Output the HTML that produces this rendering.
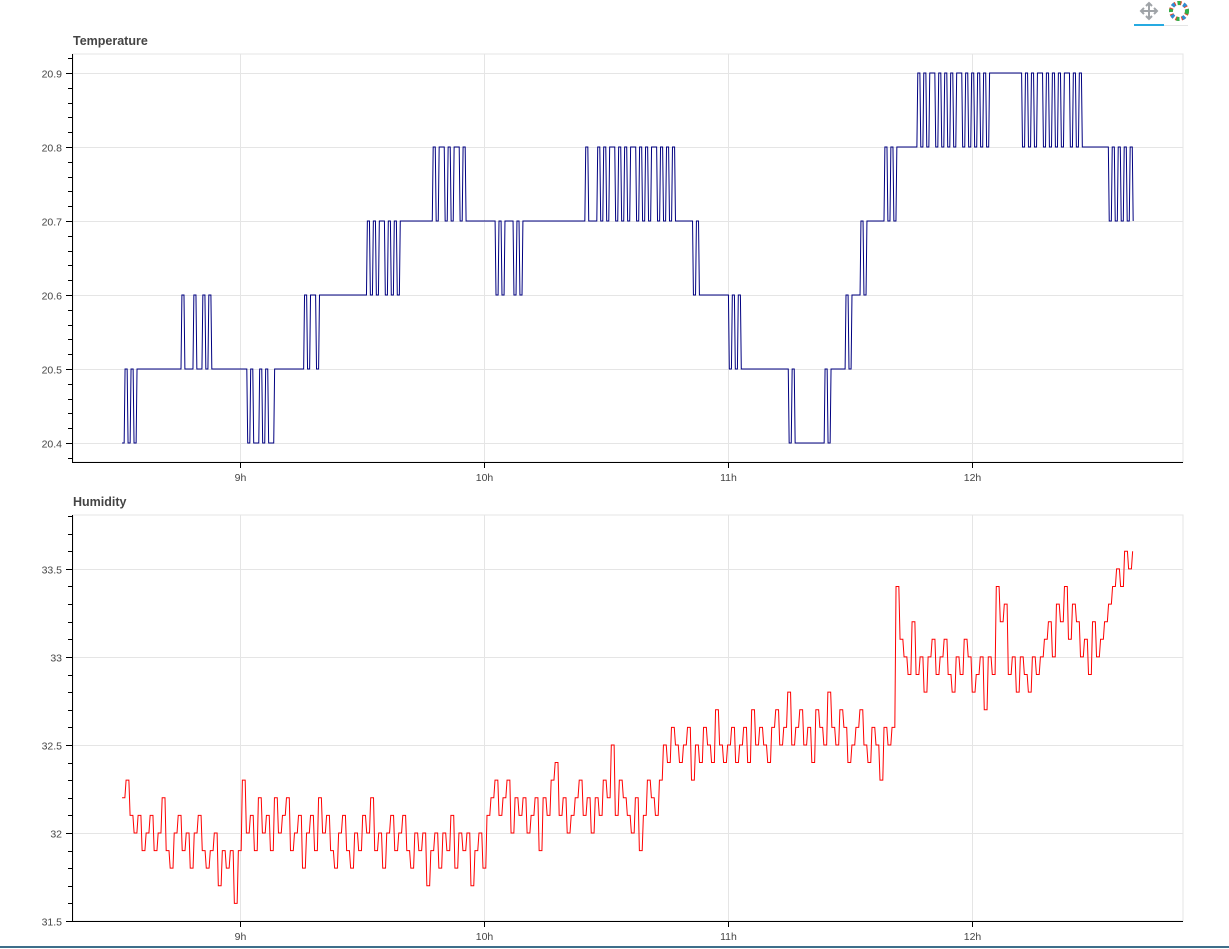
<!DOCTYPE html>
<html><head><meta charset="utf-8"><style>
html,body{margin:0;padding:0;background:#fff;}
svg{display:block;font-family:"Liberation Sans",sans-serif;}
</style></head><body>
<svg id="chart" width="1229" height="949">
<g id="toolbar">
 <g>
  <rect x="1134" y="0" width="30" height="26" fill="#fff"/>
  <path d="M1149 4 L1149 18 M1142 11 L1156 11 M1146 6 L1149 3 L1152 6 M1146 16 L1149 19 L1152 16 M1144 8 L1141 11 L1144 14 M1154 8 L1157 11 L1154 14" stroke="#a0a4a8" stroke-width="2" fill="none"/>
  <rect x="1134" y="24" width="30" height="2" fill="#26aae1"/>
 </g>
 <rect x="1164" y="25" width="24" height="1" fill="#e5e5e5"/>
 <g>
  <circle cx="1179" cy="11" r="8" fill="none" stroke="#e8442d" stroke-width="4" stroke-dasharray="4 2"/>
  <circle cx="1179" cy="11" r="8" fill="none" stroke="#2fb14a" stroke-width="4" stroke-dasharray="3 9"/>
  <circle cx="1179" cy="11" r="8" fill="none" stroke="#2b8fd6" stroke-width="4" stroke-dasharray="3 9" stroke-dashoffset="6"/>
  <circle cx="1179" cy="11" r="4" fill="#fff"/>
 </g>
</g>
</svg>
<script>
// ---- data ----
var tempStartMin = 511;      // 8:31
var tempStepMin = 0.7356;
var tempValues = [
20.4,20.5,20.4,20.5,20.4,20.5,
20.5,20.5,20.5,20.5,20.5,20.5,20.5,20.5,20.5,20.5,20.5,20.5,20.5,20.5,
20.6,20.5,20.5,20.5,20.6,20.5,20.5,20.6,20.5,20.6,
20.5,20.5,20.5,20.5,20.5,20.5,20.5,20.5,20.5,20.5,20.5,20.5,
20.4,20.5,20.4,20.4,20.5,20.4,20.5,20.4,20.4,20.5,
20.5,20.5,20.5,20.5,20.5,20.5,20.5,20.5,20.5,
20.6,20.5,20.6,20.6,20.5,20.6,
20.6,20.6,20.6,20.6,20.6,20.6,20.6,20.6,20.6,20.6,20.6,20.6,20.6,20.6,20.6,
20.7,20.6,20.7,20.6,20.7,20.7,20.6,20.7,20.6,20.7,20.6,20.7,
20.7,20.7,20.7,20.7,20.7,20.7,20.7,20.7,20.7,20.7,
20.8,20.7,20.8,20.8,20.7,20.8,20.7,20.8,20.8,20.7,20.8,20.7,
20.7,20.7,20.7,20.7,20.7,20.7,20.7,20.7,20.7,
20.6,20.7,20.6,20.7,20.7,20.7,20.6,20.7,20.6,
20.7,20.7,20.7,20.7,20.7,20.7,20.7,20.7,20.7,20.7,20.7,20.7,20.7,20.7,20.7,20.7,20.7,20.7,20.7,20.7,20.7,
20.8,20.7,20.7,20.7,
20.8,20.7,20.8,20.7,20.8,20.8,20.7,20.8,20.7,20.8,20.7,20.8,20.8,20.7,20.8,20.7,20.8,20.7,20.8,20.8,20.7,20.8,20.7,20.8,20.7,20.8,20.7,
20.7,20.7,20.7,20.7,20.7,
20.6,20.7,20.6,20.6,
20.6,20.6,20.6,20.6,20.6,20.6,20.6,20.6,
20.5,20.6,20.5,20.6,20.5,20.5,
20.5,20.5,20.5,20.5,20.5,20.5,20.5,20.5,20.5,20.5,20.5,20.5,20.5,20.5,
20.4,20.5,20.4,
20.4,20.4,20.4,20.4,20.4,20.4,20.4,20.4,20.4,
20.5,20.4,20.5,
20.5,20.5,20.5,20.5,
20.6,20.5,
20.6,20.6,20.6,
20.7,20.6,
20.7,20.7,20.7,20.7,20.7,20.7,
20.8,20.7,20.8,20.7,20.8,20.8,
20.8,20.8,20.8,20.8,20.8,
20.9,20.8,20.9,20.8,20.9,20.9,20.8,20.9,20.8,20.9,20.8,20.9,20.8,20.9,20.9,20.8,20.9,20.8,20.9,20.8,20.9,20.8,20.9,20.8,
20.9,20.9,20.9,20.9,20.9,20.9,20.9,20.9,20.9,20.9,20.9,
20.8,20.9,
20.8,20.9,20.8,20.9,20.9,20.8,20.9,20.8,20.9,20.8,20.9,20.8,20.9,20.9,20.8,20.9,20.8,20.9,20.8,20.8,
20.8,20.8,20.8,20.8,20.8,20.8,20.8,
20.7,20.8,20.7,20.8,20.7,20.8,20.7,20.8,20.7
];
var humStartMin = 511;
var humEndMin = 759.5;
var humValues = [
32.2,32.3,32.1,32.0,32.1,31.9,32.0,32.1,31.9,32.0,32.2,31.9,31.8,32.0,32.1,31.9,32.0,31.8,32.0,32.1,31.9,31.8,31.9,32.0,31.7,31.9,31.8,31.9,31.6,31.9,
32.3,32.0,32.1,31.9,32.2,32.0,32.1,31.9,32.2,32.0,32.1,32.2,31.9,32.0,32.1,31.8,32.0,32.1,31.9,32.2,32.0,32.1,31.9,31.8,32.0,32.1,31.9,31.8,32.0,31.9,32.1,32.0,32.2,31.9,32.0,31.8,32.0,32.1,31.9,32.0,32.1,31.9,31.8,32.0,31.9,32.0,31.7,31.9,32.0,31.8,32.0,31.9,32.1,31.8,32.0,31.9,32.0,31.7,31.9,32.0,31.8,
32.1,32.2,32.3,32.1,32.2,32.3,32.0,32.2,32.1,32.2,32.0,32.1,32.2,31.9,32.2,32.1,32.3,32.4,32.1,32.2,32.0,32.1,32.2,32.3,32.1,32.2,32.0,32.2,32.1,32.3,32.2,32.5,32.1,32.3,32.2,32.1,32.0,32.2,31.9,32.1,32.3,32.2,32.1,32.3,
32.5,32.4,32.6,32.5,32.4,32.5,32.6,32.3,32.5,32.4,32.6,32.5,32.4,32.7,32.5,32.4,32.5,32.6,32.4,32.5,32.6,32.4,32.7,32.5,32.6,32.5,32.4,32.6,32.7,32.5,32.6,32.8,32.5,32.6,32.7,32.5,32.6,32.4,32.7,32.6,32.5,32.8,32.6,32.5,32.7,32.6,32.4,32.5,32.6,32.7,32.5,32.4,32.6,32.5,32.3,32.6,32.5,32.6,
33.4,33.1,33.0,32.9,33.2,32.9,33.0,32.8,33.0,33.1,32.9,33.0,33.1,32.9,32.8,33.0,32.9,33.1,33.0,32.8,32.9,33.0,32.7,33.0,32.9,33.4,33.2,33.3,32.9,33.0,32.8,33.0,32.9,32.8,33.0,32.9,33.0,
33.1,33.2,33.0,33.3,33.2,33.4,33.1,33.3,33.2,33.0,33.1,32.9,33.2,33.0,33.1,33.2,33.3,33.4,33.5,33.4,33.6,33.5,33.6
];
var xTickMins = [540,600,660,720];
var xTickLabels = ["9h","10h","11h","12h"];
var tempTicks = [20.4,20.5,20.6,20.7,20.8,20.9];
var tempTickLabels = ["20.4","20.5","20.6","20.7","20.8","20.9"];
var humTicks = [31.5,32,32.5,33,33.5];
var humTickLabels = ["31.5","32","32.5","33","33.5"];

// ---- drawing ----
var NS = "http://www.w3.org/2000/svg";
var svg = document.getElementById('chart');
function mk(tag, attrs, parent){
  var e = document.createElementNS(NS, tag);
  for (var k in attrs) e.setAttribute(k, attrs[k]);
  (parent||svg).appendChild(e); return e;
}
var X0 = 73, X1 = 1183;
function xScale(min){ return 240 + (min - 540) * 244/60; }

function panel(name, title, top, bottom, ymin, ymax, ticks, labels, minorStep, xs, ys, color){
  var g = mk('g', {});
  
  
  function yScale(v){ return bottom - (v - ymin) / (ymax - ymin) * (bottom - top); }
  var t = mk('text', {x:73, y:top-9, 'font-size':'12.5', 'font-weight':'bold', fill:'#444'}, g);
  t.textContent = title;
  
  
  var frame = mk('rect', {x:X0, y:top, width:X1-X0, height:bottom-top, fill:'none', stroke:'#e5e5e5'}, g);
  
  
  xTickMins.forEach(function(m){
    var x = Math.round(xScale(m)) + 0.5;
    var gl = mk('line', {x1:x, x2:x, y1:top, y2:bottom, stroke:'#e5e5e5'}, g);
    
    
  });
  ticks.forEach(function(v){
    var y = Math.round(yScale(v)) + 0.5;
    var gl = mk('line', {x1:X0, x2:X1, y1:y, y2:y, stroke:'#e5e5e5'}, g);
    
    
  });
  // series (dense sensor readings: draw as near-vertical transitions)
  var d = '';
  for (var i = 0; i < ys.length; i++){
    var x = xScale(xs[i]), y = yScale(ys[i]);
    if (i === 0) d += 'M' + x.toFixed(2) + ' ' + y.toFixed(2);
    else {
      var px = xScale(xs[i-1]);
      var mx = px + (x - px) * 0.7;
      d += 'L' + mx.toFixed(2) + ' ' + yScale(ys[i-1]).toFixed(2) + 'L' + x.toFixed(2) + ' ' + y.toFixed(2);
    }
  }
  var p = mk('path', {d:d, fill:'none', stroke:color, 'stroke-width':1}, g);
  
  
  var ya = mk('g', {}, g);
  
  
  mk('line', {x1:72.5, x2:72.5, y1:top, y2:bottom+1, stroke:'#000'}, ya);
  for (var v = ymin - (ymin % minorStep); v <= ymax + 1e-9; v += minorStep){
    if (v < ymin) continue;
    var yy = Math.round(yScale(v)) + 0.5;
    mk('line', {x1:68, x2:72, y1:yy, y2:yy, stroke:'#000'}, ya);
  }
  ticks.forEach(function(v, i){
    var y = Math.round(yScale(v)) + 0.5;
    mk('line', {x1:66, x2:72, y1:y, y2:y, stroke:'#000'}, ya);
    var tl = mk('text', {x:62, y:y+4, 'font-size':'10.5', fill:'#444', 'text-anchor':'end'}, ya);
    tl.textContent = labels[i];
    
    
  });
  var xa = mk('g', {}, g);
  
  
  mk('line', {x1:72, x2:X1, y1:bottom+0.5, y2:bottom+0.5, stroke:'#000'}, xa);
  xTickMins.forEach(function(m, i){
    var x = Math.round(xScale(m)) + 0.5;
    mk('line', {x1:x, x2:x, y1:bottom, y2:bottom+6, stroke:'#000'}, xa);
    var tl = mk('text', {x:x, y:bottom+19, 'font-size':'10.5', fill:'#444', 'text-anchor':'middle'}, xa);
    tl.textContent = xTickLabels[i];
    
    
  });
}

var tempX = tempValues.map(function(_, i){ return tempStartMin + i * tempStepMin; });
var humStep = (humEndMin - humStartMin) / (humValues.length - 1);
var humX = humValues.map(function(_, i){ return humStartMin + i * humStep; });

panel('temperature', 'Temperature', 54, 462, 20.3743, 20.9257, tempTicks, tempTickLabels, 0.02, tempX, tempValues, '#000080');
panel('humidity', 'Humidity', 515, 921, 31.5, 33.806, humTicks, humTickLabels, 0.1, humX, humValues, '#ff0000');

var bl = mk('rect', {x:0, y:946, width:1229, height:2, fill:'#3e6e8a'});


</script>
</body></html>
